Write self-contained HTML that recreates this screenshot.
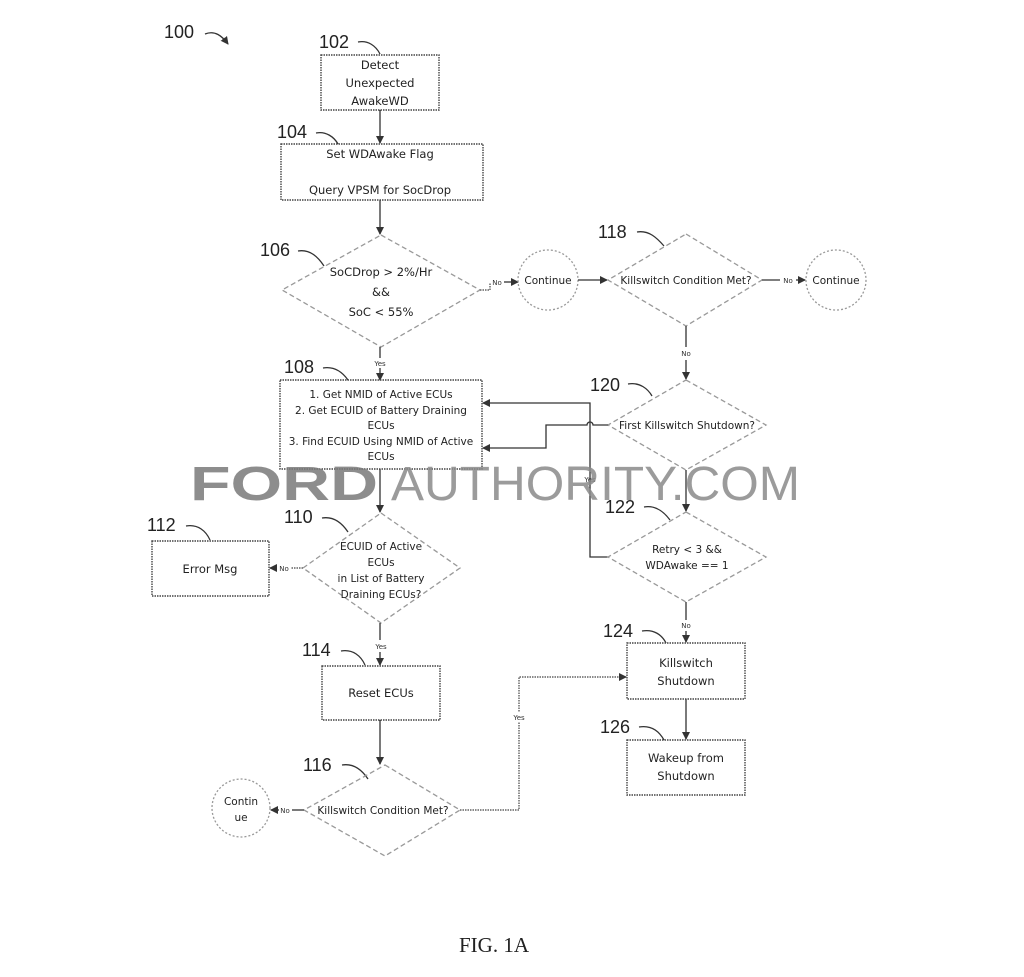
<!DOCTYPE html>
<html><head><meta charset="utf-8"><style>
html,body{margin:0;padding:0;background:#fff;width:1024px;height:977px;overflow:hidden}
svg{display:block}
.t{font-family:"DejaVu Sans","Liberation Sans",sans-serif;font-size:11.5px;fill:#222;text-anchor:middle}
.s{font-family:"DejaVu Sans","Liberation Sans",sans-serif;font-size:7px;fill:#333;text-anchor:middle}
.n{font-family:"Liberation Sans",sans-serif;font-size:18px;fill:#222}
.box{fill:none;stroke:#444;stroke-width:1.4;stroke-dasharray:1.5 1}
.dia{fill:none;stroke:#999;stroke-width:1.3;stroke-dasharray:5 3}
.ln{fill:none;stroke:#333;stroke-width:1.3}
.dl{fill:none;stroke:#444;stroke-width:1.2;stroke-dasharray:1.5 1}
.cur{fill:none;stroke:#333;stroke-width:1.3}
</style></head><body>
<svg width="1024" height="977" viewBox="0 0 1024 977" xmlns="http://www.w3.org/2000/svg">
<defs><marker id="a" markerWidth="8" markerHeight="8" refX="7" refY="4" orient="auto" markerUnits="userSpaceOnUse"><path d="M0,0 L8,4 L0,8 z" fill="#333"/></marker></defs>

<text class="n" x="164" y="38">100</text>
<path class="cur" d="M205,34 C215,30 222,36 228,44" marker-end="url(#a)"/>

<text class="n" x="319" y="48">102</text><path class="cur" d="M358,42 C368,40 376,46 380,54"/>
<rect class="box" x="321" y="55" width="118" height="55"/>
<text class="t" x="380" y="69">Detect</text><text class="t" x="380" y="87">Unexpected</text><text class="t" x="380" y="105">AwakeWD</text>
<line class="ln" x1="380" y1="110" x2="380" y2="143" marker-end="url(#a)"/>

<text class="n" x="277" y="138">104</text><path class="cur" d="M316,133 C326,131 334,137 338,144"/>
<rect class="box" x="281" y="144" width="202" height="56"/>
<text class="t" x="380" y="158">Set WDAwake Flag</text><text class="t" x="380" y="194">Query VPSM for SocDrop</text>
<line class="ln" x1="380" y1="200" x2="380" y2="234" marker-end="url(#a)"/>

<text class="n" x="260" y="256">106</text><path class="cur" d="M298,251 C310,249 318,257 324,266"/>
<polygon class="dia" points="381,235 480,290 381,347 282,290"/>
<text class="t" x="381" y="276">SoCDrop &gt; 2%/Hr</text><text class="t" x="381" y="296">&amp;&amp;</text><text class="t" x="381" y="316">SoC &lt; 55%</text>
<path class="dl" d="M480,290 L490,290 L490,283"/><text class="s" x="497" y="285">No</text>
<line class="ln" x1="504" y1="282" x2="518" y2="282" marker-end="url(#a)"/>
<circle cx="548" cy="280" r="30" class="dia" style="stroke-dasharray:2 2"/>
<text class="t" x="548" y="284" style="font-size:10.5px">Continue</text>
<line class="ln" x1="578" y1="280" x2="607" y2="280" marker-end="url(#a)"/>

<text class="n" x="598" y="238">118</text><path class="cur" d="M637,232 C649,230 657,238 664,246"/>
<polygon class="dia" points="686,234 762,280 686,326 608,280"/>
<text class="t" x="686" y="284" style="font-size:10.5px">Killswitch Condition Met?</text>
<line class="ln" x1="762" y1="280" x2="780" y2="280"/><text class="s" x="788" y="283">No</text>
<line class="ln" x1="796" y1="280" x2="805" y2="280" marker-end="url(#a)"/>
<circle cx="836" cy="280" r="30" class="dia" style="stroke-dasharray:2 2"/>
<text class="t" x="836" y="284" style="font-size:10.5px">Continue</text>
<line class="ln" x1="686" y1="326" x2="686" y2="347"/><text class="s" x="686" y="356">No</text>
<line class="ln" x1="686" y1="360" x2="686" y2="379" marker-end="url(#a)"/>

<line class="ln" x1="380" y1="347" x2="380" y2="358"/><text class="s" x="380" y="366">Yes</text>
<line class="ln" x1="380" y1="368" x2="380" y2="380" marker-end="url(#a)"/>

<text class="n" x="284" y="373">108</text><path class="cur" d="M323,368 C335,366 343,373 348,380"/>
<rect class="box" x="280" y="380" width="202" height="89"/>
<text class="t" x="381" y="398" style="font-size:10.5px">1. Get NMID of Active ECUs</text>
<text class="t" x="381" y="414" style="font-size:10.5px">2. Get ECUID of Battery Draining</text>
<text class="t" x="381" y="429" style="font-size:10.5px">ECUs</text>
<text class="t" x="381" y="445" style="font-size:10.5px">3. Find ECUID Using NMID of Active</text>
<text class="t" x="381" y="460" style="font-size:10.5px">ECUs</text>

<text class="n" x="590" y="391">120</text><path class="cur" d="M628,384 C640,382 648,389 652,396"/>
<polygon class="dia" points="686,380 766,425 686,470 608,425"/>
<text class="t" x="687" y="429" style="font-size:10.5px">First Killswitch Shutdown?</text>
<path class="ln" d="M608,425 L593,425 A3,3 0 0 0 587,425 L546,425 L546,448 L483,448" marker-end="url(#a)"/>
<path class="ln" d="M608,557 L590,557 L590,403 L483,403" marker-end="url(#a)"/>
<text class="s" x="590" y="482">Yes</text>
<line class="ln" x1="686" y1="470" x2="686" y2="511" marker-end="url(#a)"/>

<text class="n" x="605" y="513">122</text><path class="cur" d="M644,507 C656,505 664,512 670,520"/>
<polygon class="dia" points="686,512 766,557 686,602 608,557"/>
<text class="t" x="687" y="553" style="font-size:10.5px">Retry &lt; 3 &amp;&amp;</text>
<text class="t" x="687" y="569" style="font-size:10.5px">WDAwake == 1</text>
<line class="ln" x1="686" y1="602" x2="686" y2="620"/><text class="s" x="686" y="628">No</text>
<line class="ln" x1="686" y1="631" x2="686" y2="642" marker-end="url(#a)"/>

<text class="n" x="603" y="637">124</text><path class="cur" d="M642,631 C654,629 662,635 666,643"/>
<rect class="box" x="627" y="643" width="118" height="56"/>
<text class="t" x="686" y="667">Killswitch</text><text class="t" x="686" y="685">Shutdown</text>
<line class="ln" x1="686" y1="699" x2="686" y2="739" marker-end="url(#a)"/>

<text class="n" x="600" y="733">126</text><path class="cur" d="M639,727 C651,725 659,731 664,740"/>
<rect class="box" x="627" y="740" width="118" height="55"/>
<text class="t" x="686" y="762">Wakeup from</text><text class="t" x="686" y="780">Shutdown</text>

<line class="ln" x1="380" y1="469" x2="380" y2="512" marker-end="url(#a)"/>

<text class="n" x="284" y="523">110</text><path class="cur" d="M322,518 C334,516 342,523 348,532"/>
<polygon class="dia" points="381,513 460,568 381,623 303,568"/>
<text class="t" x="381" y="550" style="font-size:10.5px">ECUID of Active</text>
<text class="t" x="381" y="566" style="font-size:10.5px">ECUs</text>
<text class="t" x="381" y="582" style="font-size:10.5px">in List of Battery</text>
<text class="t" x="381" y="598" style="font-size:10.5px">Draining ECUs?</text>
<path class="dl" d="M303,568 L291,568"/><text class="s" x="284" y="571">No</text>
<line class="ln" x1="277" y1="568" x2="270" y2="568" marker-end="url(#a)"/>

<text class="n" x="147" y="531">112</text><path class="cur" d="M186,526 C198,524 206,531 210,540"/>
<rect class="box" x="152" y="541" width="117" height="55"/>
<text class="t" x="210" y="573">Error Msg</text>

<line class="ln" x1="380" y1="623" x2="380" y2="640"/><text class="s" x="381" y="649">Yes</text>
<line class="ln" x1="380" y1="652" x2="380" y2="665" marker-end="url(#a)"/>

<text class="n" x="302" y="656">114</text><path class="cur" d="M341,651 C353,649 361,656 365,665"/>
<rect class="box" x="322" y="666" width="118" height="54"/>
<text class="t" x="381" y="697">Reset ECUs</text>
<line class="ln" x1="380" y1="720" x2="380" y2="764" marker-end="url(#a)"/>

<text class="n" x="303" y="771">116</text><path class="cur" d="M342,765 C354,763 362,770 368,779"/>
<polygon class="dia" points="385,765 460,810 385,856 304,810"/>
<text class="t" x="383" y="814" style="font-size:10.5px">Killswitch Condition Met?</text>
<path class="dl" d="M460,810 L519,810 L519,677 L626,677" marker-end="url(#a)"/>
<rect x="512" y="712" width="14" height="10" fill="#fff"/><text class="s" x="519" y="720">Yes</text>
<line class="ln" x1="304" y1="810" x2="292" y2="810"/><text class="s" x="285" y="813">No</text>
<line class="ln" x1="279" y1="810" x2="271" y2="810" marker-end="url(#a)"/>
<circle cx="241" cy="808" r="29" class="dia" style="stroke-dasharray:2 2"/>
<text class="t" x="241" y="805" style="font-size:10.5px">Contin</text>
<text class="t" x="241" y="821" style="font-size:10.5px">ue</text>

<text x="494" y="952" style="font-family:'Liberation Serif',serif;font-size:21px;fill:#222" text-anchor="middle">FIG. 1A</text>

<g opacity="0.85">
<text x="190" y="500" textLength="188" lengthAdjust="spacingAndGlyphs" style="font-family:'Liberation Sans',sans-serif;font-weight:bold;font-size:48px;fill:#7a7a7a">FORD</text>
<text x="391" y="500" textLength="409" lengthAdjust="spacingAndGlyphs" style="font-family:'Liberation Sans',sans-serif;font-size:48px;fill:#8a8a8a">AUTHORITY.COM</text>
</g>
</svg>
</body></html>
